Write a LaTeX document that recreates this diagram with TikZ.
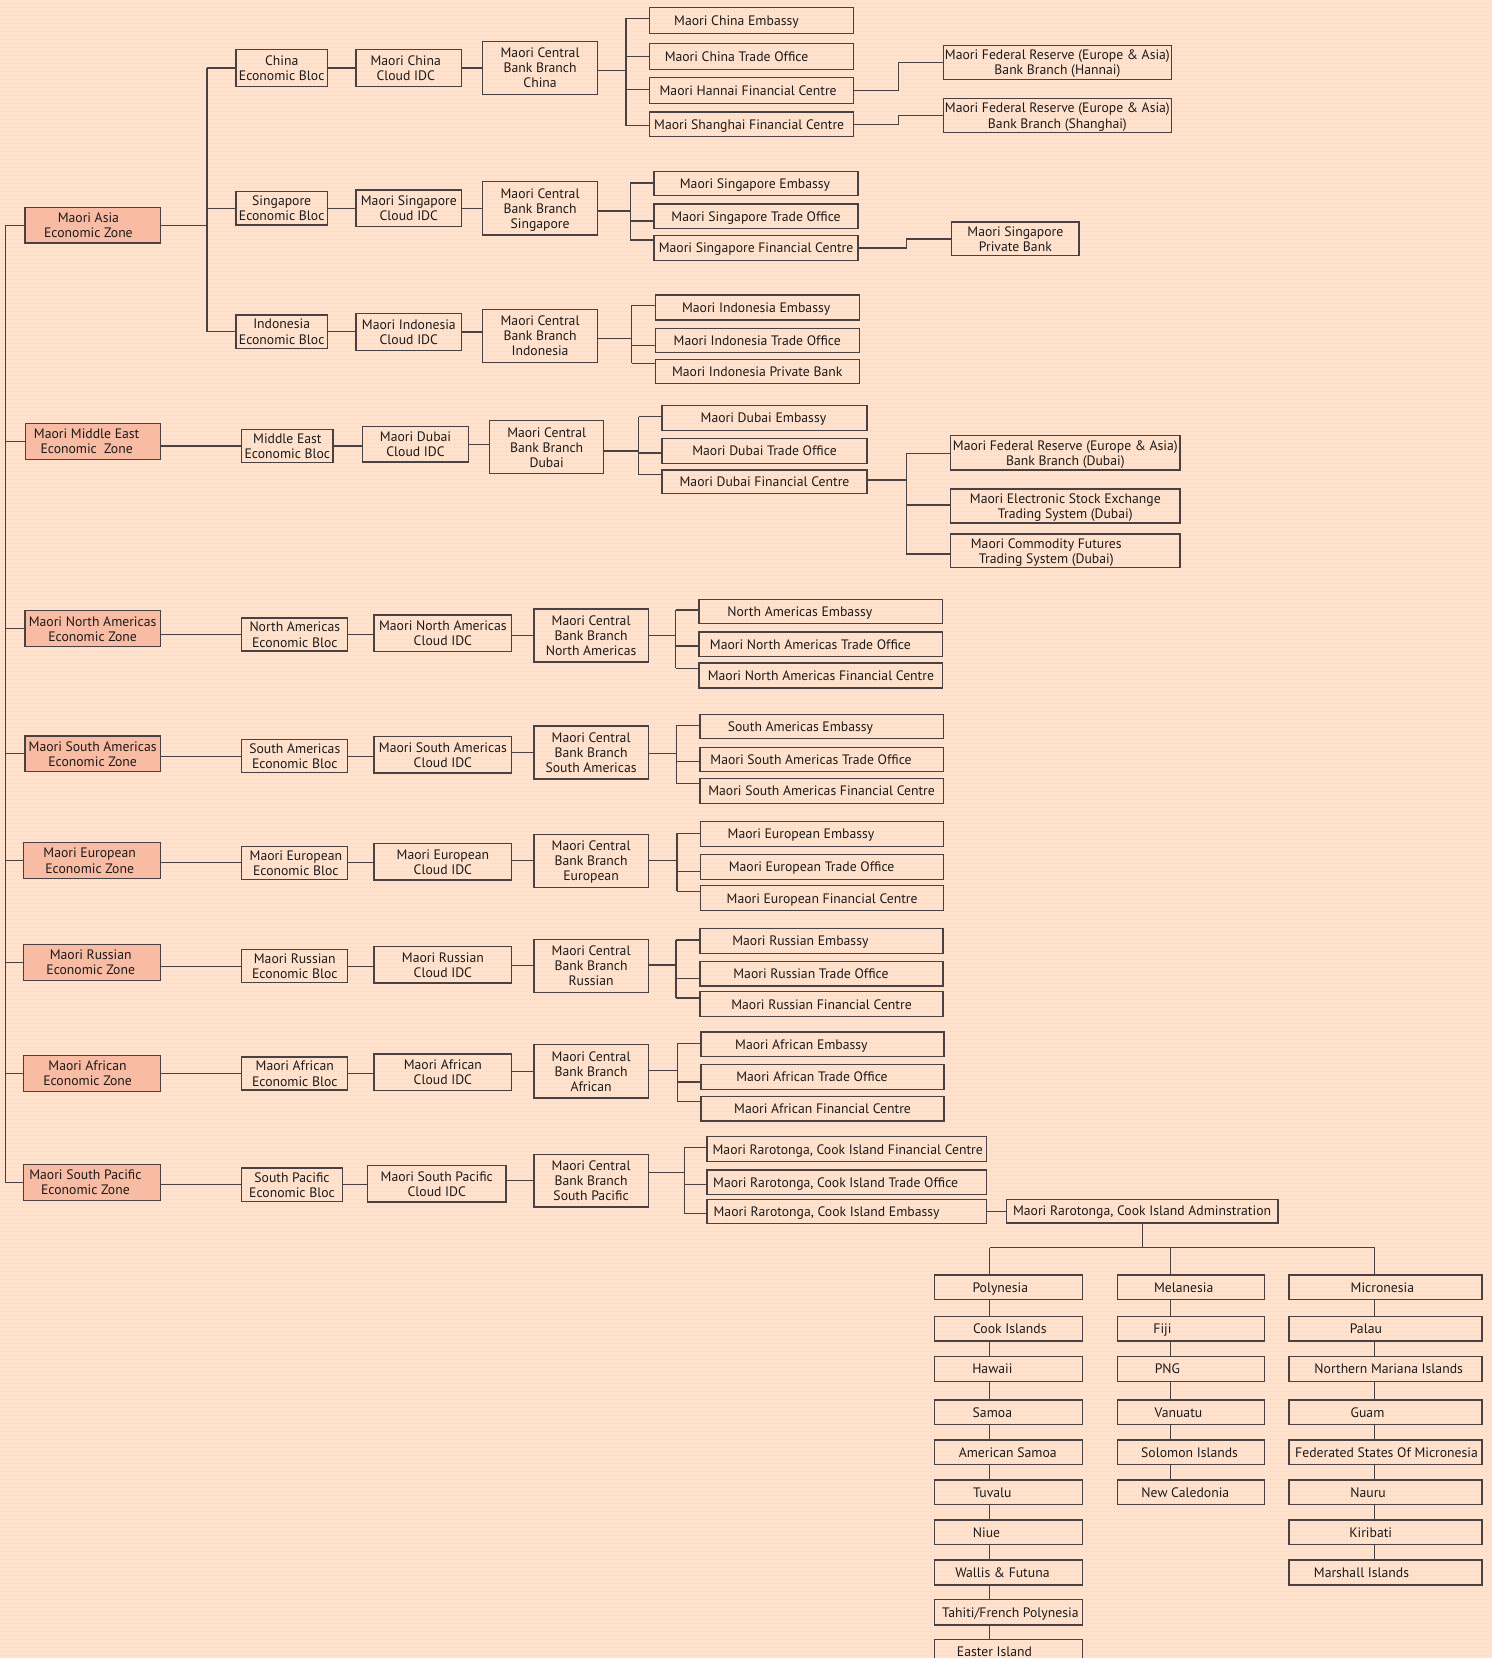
\documentclass[tikz,border=0pt]{standalone}
\usepackage{fontspec}
\setmainfont{PT Sans}
\usetikzlibrary{calc,patterns.meta}
\definecolor{bg}{HTML}{FFE2CD}
\definecolor{dotc}{HTML}{FFCBA9}
\definecolor{zf}{HTML}{F8BBA3}
\definecolor{lc}{HTML}{4A4242}
\definecolor{tc}{HTML}{1E1A1A}
\newcommand\fs{\fontsize{13.7}{15.2}\selectfont}
\newcommand\bx[8][]{%
 \pgfmathsetlengthmacro\bxk{2*(#7)*1.0574pt}%
 \node[box,#1,minimum width={(#5-#3)*1.0574pt},minimum height={(#6-#4)*1.0574pt}] (#2) at ({(#3+#5)/2},{(#4+#6)/2}) {\hspace*{\bxk}\raisebox{-1.9pt}[\height][\depth]{\begin{tabular}{@{}c@{}}#8\end{tabular}}};}
\newcommand\hbr[3]{\draw[ln] (#1 |- 0,#3) -- (#2.west |- 0,#3);}
\begin{document}
\begin{tikzpicture}[x=1.0574pt,y=-1.0574pt,
  box/.style={draw=lc,line width=1.2pt,inner sep=0pt,font=\fs,text=tc},
  zone/.style={fill=zf},
  ln/.style={draw=lc,line width=1.2pt}]
\fill[bg] (0,0) rectangle (1411,1568);
\fill[pattern={Dots[radius=0.8pt,distance=4pt]},pattern color=dotc] (0,0) rectangle (1411,1568);
\useasboundingbox (0,0) rectangle (1411,1568);
% zones
\bx[zone]{zAs}{23.6}{196}{151.6}{229.8}{-4}{Maori Asia\\Economic Zone}
\bx[zone]{zME}{24.3}{400.3}{151.6}{434.4}{-6}{Maori Middle East\\Economic\ \ Zone}
\bx[zone]{zNA}{23.6}{577.5}{151.6}{611.6}{0}{Maori North Americas\\Economic Zone}
\bx[zone]{zSA}{23.6}{696}{151.6}{729.8}{0}{Maori South Americas\\Economic Zone}
\bx[zone]{zEu}{22}{797}{151.6}{830.7}{-2}{Maori European\\Economic Zone}
\bx[zone]{zRu}{22}{893}{151.6}{927}{-1}{Maori Russian\\Economic Zone}
\bx[zone]{zAf}{22}{998}{151.6}{1032}{-4}{Maori African\\Economic Zone}
\bx[zone]{zSP}{22}{1101}{151.6}{1135}{-6}{Maori South Pacific\\Economic Zone}
% Asia
\bx{bCh}{223.2}{47}{309.6}{81.6}{0}{China\\Economic Bloc}
\bx{bSg}{223.2}{181.3}{309.6}{212.8}{0}{Singapore\\Economic Bloc}
\bx{bId}{223.2}{297.9}{309.6}{329.4}{0}{Indonesia\\Economic Bloc}
\bx{cCh}{336.7}{47}{436.6}{81.6}{-3}{Maori China\\Cloud IDC}
\bx{cSg}{336.7}{179.7}{436.6}{214.4}{0}{Maori Singapore\\Cloud IDC}
\bx{cId}{336.7}{296.6}{436.6}{331.3}{0}{Maori Indonesia\\Cloud IDC}
\bx{kCh}{456.5}{39}{565}{89.2}{0}{Maori Central\\Bank Branch\\China}
\bx{kSg}{456.5}{171.8}{565}{222.2}{0}{Maori Central\\Bank Branch\\Singapore}
\bx{kId}{456.5}{292.5}{565}{342.6}{0}{Maori Central\\Bank Branch\\Indonesia}
\bx{chE}{614}{7}{807}{31.5}{-14}{Maori China Embassy}
\bx{chT}{614}{41.3}{807}{65.6}{-14}{Maori China Trade Office}
\bx{chH}{614}{73.5}{807}{97.7}{-3}{Maori Hannai Financial Centre}
\bx{chS}{614}{106}{807}{129}{-2}{Maori Shanghai Financial Centre}
\bx{frH}{892}{43}{1108}{75}{0}{Maori Federal Reserve (Europe \& Asia)\\Bank Branch (Hannai)}
\bx{frS}{892}{93}{1108}{125.5}{0}{Maori Federal Reserve (Europe \& Asia)\\Bank Branch (Shanghai)}
\bx{sgE}{618.5}{162}{811.5}{185}{-1}{Maori Singapore Embassy}
\bx{sgT}{618.5}{193}{811.5}{216}{0}{Maori Singapore Trade Office}
\bx{sgF}{618.5}{223}{811.5}{246}{0}{Maori Singapore Financial Centre}
\bx{sgP}{900}{210}{1020.5}{242}{0}{Maori Singapore\\Private Bank}
\bx{idE}{619.6}{279}{812.6}{302.6}{-1}{Maori Indonesia Embassy}
\bx{idT}{619.6}{310.5}{812.6}{333.5}{0}{Maori Indonesia Trade Office}
\bx{idP}{619.6}{339.8}{812.6}{363}{0}{Maori Indonesia Private Bank}
% Middle East
\bx{bME}{228.6}{406.3}{315}{437.2}{0}{Middle East\\Economic Bloc}
\bx{cME}{343}{403}{443}{437}{0}{Maori Dubai\\Cloud IDC}
\bx{kME}{463}{398}{571}{448}{0}{Maori Central\\Bank Branch\\Dubai}
\bx{duE}{626}{383.7}{820}{406.8}{-1}{Maori Dubai Embassy}
\bx{duT}{626}{415}{820}{438}{0}{Maori Dubai Trade Office}
\bx{duF}{626}{444.5}{820}{467}{0}{Maori Dubai Financial Centre}
\bx{frD}{899}{412}{1116}{444.5}{0}{Maori Federal Reserve (Europe \& Asia)\\Bank Branch (Dubai)}
\bx{esD}{899}{462.5}{1116}{494.6}{0}{Maori Electronic Stock Exchange\\Trading System (Dubai)}
\bx{cfD}{899}{505}{1116}{537}{-18}{Maori Commodity Futures\\Trading System (Dubai)}
% North Americas
\bx{bNA}{228.6}{584.5}{329}{615.7}{0}{North Americas\\Economic Bloc}
\bx{cNA}{353.7}{581.6}{484}{616.3}{0}{Maori North Americas\\Cloud IDC}
\bx{kNA}{505}{576}{613}{626}{0}{Maori Central\\Bank Branch\\North Americas}
\bx{naE}{661}{566.8}{891.7}{589.6}{-20}{North Americas Embassy}
\bx{naT}{661}{597.7}{891.7}{620.8}{-10}{Maori North Americas Trade Office}
\bx{naF}{661}{627}{891.7}{650.7}{0}{Maori North Americas Financial Centre}
% South Americas
\bx{bSA}{228.6}{699.5}{329}{730.7}{0}{South Americas\\Economic Bloc}
\bx{cSA}{353.7}{696.7}{484}{731}{0}{Maori South Americas\\Cloud IDC}
\bx{kSA}{505}{686.6}{613}{736.7}{0}{Maori Central\\Bank Branch\\South Americas}
\bx{saE}{662}{675.9}{892}{698.7}{-20}{South Americas Embassy}
\bx{saT}{662}{706.8}{892}{729.6}{-10}{Maori South Americas Trade Office}
\bx{saF}{662}{736.4}{892}{759.6}{0}{Maori South Americas Financial Centre}
% European
\bx{bEu}{228.6}{800.4}{329}{831.6}{1}{Maori European\\Economic Bloc}
\bx{cEu}{353.7}{797.9}{484}{832.2}{0}{Maori European\\Cloud IDC}
\bx{kEu}{505}{789}{613}{839.2}{0}{Maori Central\\Bank Branch\\European}
\bx{euE}{662.6}{777.1}{892.4}{800.3}{-20}{Maori European Embassy}
\bx{euT}{662.6}{808.4}{892.4}{831.5}{-10}{Maori European Trade Office}
\bx{euF}{662.6}{837.7}{892.4}{861.2}{0}{Maori European Financial Centre}
% Russian
\bx{bRu}{228.6}{898.1}{329}{929.3}{0}{Maori Russian\\Economic Bloc}
\bx{cRu}{353.7}{895.3}{484}{929.6}{0}{Maori Russian\\Cloud IDC}
\bx{kRu}{505}{888.3}{613}{938.4}{0}{Maori Central\\Bank Branch\\Russian}
\bx{ruE}{662}{878.1}{891.8}{901.5}{-20}{Maori Russian Embassy}
\bx{ruT}{662}{909}{891.8}{932.5}{-10}{Maori Russian Trade Office}
\bx{ruF}{662}{937.7}{891.8}{961.5}{0}{Maori Russian Financial Centre}
% African
\bx{bAf}{228.6}{999.6}{329}{1030.8}{0}{Maori African\\Economic Bloc}
\bx{cAf}{353.7}{996.8}{484}{1031.5}{0}{Maori African\\Cloud IDC}
\bx{kAf}{505}{987.9}{613}{1038.4}{0}{Maori Central\\Bank Branch\\African}
\bx{afE}{663}{976}{892.8}{999.2}{-20}{Maori African Embassy}
\bx{afT}{663}{1006.7}{892.8}{1030.2}{-10}{Maori African Trade Office}
\bx{afF}{663}{1036.7}{892.8}{1060.2}{0}{Maori African Financial Centre}
% South Pacific
\bx{bSP}{228.6}{1104.6}{323.7}{1136.1}{0}{South Pacific\\Economic Bloc}
\bx{cSP}{347.7}{1102}{478.5}{1136.8}{0}{Maori South Pacific\\Cloud IDC}
\bx{kSP}{505}{1091.7}{613}{1141.5}{0}{Maori Central\\Bank Branch\\South Pacific}
\bx{spF}{668.6}{1075}{932.8}{1098.6}{1}{Maori Rarotonga, Cook Island Financial Centre}
\bx{spT}{668.6}{1106.5}{932.8}{1129.5}{-10.4}{Maori Rarotonga, Cook Island Trade Office}
\bx{spE}{668.6}{1134.2}{932.8}{1157}{-19}{Maori Rarotonga, Cook Island Embassy}
\bx{adm}{951.6}{1134}{1208.6}{1156.6}{0}{Maori Rarotonga, Cook Island Adminstration}
% Polynesia
\bx{p1}{884}{1205.8}{1024}{1228.6}{-8}{Polynesia}
\bx{p2}{884}{1245.2}{1024}{1268.2}{1}{Cook Islands}
\bx{p3}{884}{1283}{1024}{1306.3}{-15.5}{Hawaii}
\bx{p4}{884}{1324}{1024}{1347}{-15.5}{Samoa}
\bx{p5}{884}{1361.8}{1024}{1384.8}{-1}{American Samoa}
\bx{p6}{884}{1399.7}{1024}{1423}{-15.5}{Tuvalu}
\bx{p7}{884}{1437.5}{1024}{1461}{-21}{Niue}
\bx{p8}{884}{1475.3}{1024}{1499}{-6}{Wallis \& Futuna}
\bx{p9}{884}{1513}{1024}{1536.8}{1.5}{Tahiti/French Polynesia}
\bx{p10}{884}{1550.3}{1024}{1573.5}{-13.5}{Easter Island}
% Melanesia
\bx{m1}{1056.5}{1205.8}{1195.5}{1228.6}{-6.6}{Melanesia}
\bx{m2}{1056.5}{1245.2}{1195.5}{1268.2}{-26.6}{Fiji}
\bx{m3}{1056.5}{1283}{1195.5}{1306.3}{-22}{PNG}
\bx{m4}{1056.5}{1324}{1195.5}{1347}{-11.5}{Vanuatu}
\bx{m5}{1056.5}{1361.8}{1195.5}{1384.8}{-1}{Solomon Islands}
\bx{m6}{1056.5}{1399.7}{1195.5}{1423}{-5}{New Caledonia}
% Micronesia
\bx{n1}{1219}{1205.8}{1401.6}{1228.6}{-3}{Micronesia}
\bx{n2}{1219}{1245.2}{1401.6}{1268.2}{-18.6}{Palau}
\bx{n3}{1219}{1283}{1401.6}{1306.3}{3}{Northern Mariana Islands}
\bx{n4}{1219}{1324}{1401.6}{1347}{-17}{Guam}
\bx{n5}{1219}{1361.8}{1401.6}{1384.8}{1}{Federated States Of Micronesia}
\bx{n6}{1219}{1399.7}{1401.6}{1423}{-16.5}{Nauru}
\bx{n7}{1219}{1437.5}{1401.6}{1461}{-14}{Kiribati}
\bx{n8}{1219}{1475.3}{1401.6}{1499}{-22.7}{Marshall Islands}
% ---------- connectors ----------
\coordinate (sp) at (5,0);
\draw[ln] (sp |- zAs.west) -- (sp |- zSP.west);
\foreach \z in {zAs,zME,zNA,zSA,zEu,zRu,zAf,zSP} \draw[ln] (sp |- \z.west) -- (\z.west);
% Asia
\coordinate (aB) at (195.8,0);
\draw[ln] (zAs.east) -- (zAs.east -| aB);
\draw[ln] (aB |- bCh.west) -- (aB |- bId.west);
\foreach \n in {bCh,bSg,bId} \draw[ln] (aB |- \n.west) -- (\n.west);
\foreach \a/\b in {bCh/cCh,bSg/cSg,bId/cId,cCh/kCh,cSg/kSg,cId/kId} \draw[ln] (\a.east) -- (\a.east -| \b.west);
\coordinate (jCh) at (592,66.8);
\draw[ln] (kCh.east |- jCh) -- (jCh);
\draw[ln] (jCh |- 0,17.3) -- (jCh |- 0,119);
\hbr{jCh}{chE}{17.3}\hbr{jCh}{chT}{53.6}\hbr{jCh}{chH}{84.5}\hbr{jCh}{chS}{119}
\coordinate (jH) at (850,0);
\draw[ln] (chH.east) -| (jH |- frH.west) -- (frH.west);
\draw[ln] (chS.east) -| (jH |- frS.west) -- (frS.west);
\coordinate (jSg) at (596,199.5);
\draw[ln] (kSg.east |- jSg) -- (jSg);
\draw[ln] (jSg |- 0,173) -- (jSg |- 0,227);
\hbr{jSg}{sgE}{173}\hbr{jSg}{sgT}{209}\hbr{jSg}{sgF}{227}
\coordinate (jP) at (857,0);
\draw[ln] (sgF.east) -| (jP |- sgP.west) -- (sgP.west);
\coordinate (jId) at (597.5,320);
\draw[ln] (kId.east |- jId) -- (jId);
\draw[ln] (jId |- 0,288.8) -- (jId |- 0,343.5);
\hbr{jId}{idE}{288.8}\hbr{jId}{idT}{327}\hbr{jId}{idP}{343.5}
% Middle East
\draw[ln] (bME.west -| zME.east) -- (bME.west);
\draw[ln] (bME.east) -- (bME.east -| cME.west);
\draw[ln] (cME.east) -- (cME.east -| kME.west);
\coordinate (jME) at (604,426.5);
\draw[ln] (kME.east |- jME) -- (jME);
\draw[ln] (jME |- 0,394) -- (jME |- 0,449);
\hbr{jME}{duE}{394}\hbr{jME}{duT}{428.5}\hbr{jME}{duF}{449}
\coordinate (jD) at (857,454);
\draw[ln] (duF.east |- jD) -- (jD);
\draw[ln] (jD |- 0,429) -- (jD |- 0,524);
\hbr{jD}{frD}{429}\hbr{jD}{esD}{477.6}\hbr{jD}{cfD}{524}
% rows NA..SP
\foreach \r in {NA,SA,Eu,Ru,Af,SP}{
  \draw[ln] (b\r.west -| z\r.east) -- (b\r.west);
  \draw[ln] (b\r.east) -- (b\r.east -| c\r.west);
  \draw[ln] (k\r.west -| c\r.east) -- (k\r.west);
}
\coordinate (jNA) at (639,601);
\draw[ln] (kNA.east |- jNA) -- (jNA);
\draw[ln] (jNA |- 0,576.9) -- (jNA |- 0,632.2);
\hbr{jNA}{naE}{576.9}\hbr{jNA}{naT}{611}\hbr{jNA}{naF}{632.2}
\coordinate (jSA) at (640,712.4);
\draw[ln] (kSA.east |- jSA) -- (jSA);
\draw[ln] (jSA |- 0,686) -- (jSA |- 0,741);
\hbr{jSA}{saE}{686}\hbr{jSA}{saT}{720.2}\hbr{jSA}{saF}{741}
\coordinate (jEu) at (640.3,813.6);
\draw[ln] (kEu.east |- jEu) -- (jEu);
\draw[ln] (jEu |- 0,787.9) -- (jEu |- 0,842.9);
\hbr{jEu}{euE}{787.9}\hbr{jEu}{euT}{824}\hbr{jEu}{euF}{842.9}
\coordinate (jRu) at (639.3,912.6);
\draw[ln] (kRu.east |- jRu) -- (jRu);
\draw[ln] (jRu |- 0,889) -- (jRu |- 0,943.8);
\hbr{jRu}{ruE}{889}\hbr{jRu}{ruT}{925.2}\hbr{jRu}{ruF}{943.8}
\coordinate (jAf) at (640.6,1012.5);
\draw[ln] (kAf.east |- jAf) -- (jAf);
\draw[ln] (jAf |- 0,987) -- (jAf |- 0,1041.8);
\hbr{jAf}{afE}{987}\hbr{jAf}{afT}{1023.3}\hbr{jAf}{afF}{1041.8}
\coordinate (jSP) at (647.3,1108.7);
\draw[ln] (kSP.east |- jSP) -- (jSP);
\draw[ln] (jSP |- 0,1085.4) -- (jSP |- 0,1147.5);
\hbr{jSP}{spF}{1085.4}\hbr{jSP}{spT}{1120}\hbr{jSP}{spE}{1147.5}
\draw[ln] (spE.east) -- (spE.east -| adm.west);
% Oceania
\coordinate (dP) at (936,1180);
\coordinate (dM) at (1107,1180);
\coordinate (dMi) at (1300,1180);
\draw[ln] (adm.south) -- (adm.south |- dP);
\draw[ln] (dP) -- (dMi);
\draw[ln] (dP) -- (dP |- p1.north);
\draw[ln] (dM) -- (dM |- m1.north);
\draw[ln] (dMi) -- (dMi |- n1.north);
\foreach \a/\b in {p1/p2,p2/p3,p3/p4,p4/p5,p5/p6,p6/p7,p7/p8,p8/p9,p9/p10} \draw[ln] (dP |- \a.south) -- (dP |- \b.north);
\foreach \a/\b in {m1/m2,m2/m3,m3/m4,m4/m5,m5/m6} \draw[ln] (dM |- \a.south) -- (dM |- \b.north);
\foreach \a/\b in {n1/n2,n2/n3,n3/n4,n4/n5,n5/n6,n6/n7,n7/n8} \draw[ln] (dMi |- \a.south) -- (dMi |- \b.north);
\end{tikzpicture}
\end{document}
